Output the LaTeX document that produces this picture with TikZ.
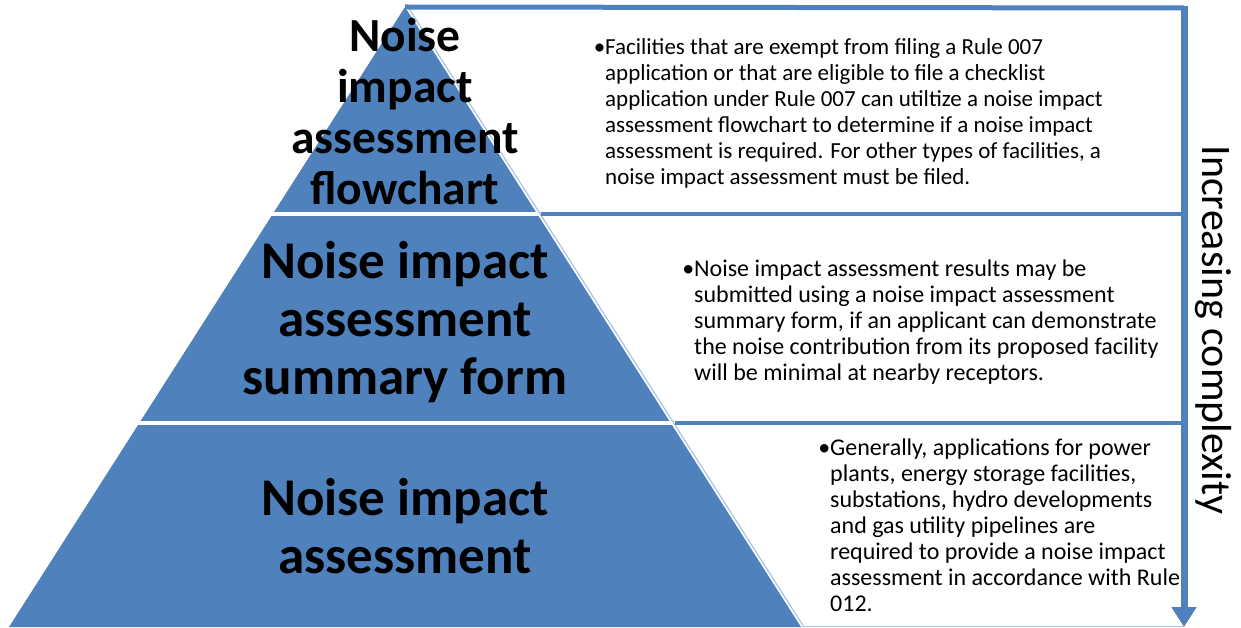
\documentclass[tikz,border=0pt]{standalone}
\usepackage{fontspec}
\setmainfont{Carlito}
\usetikzlibrary{arrows.meta,calc}
\definecolor{pblue}{HTML}{4F81BD}
\definecolor{lblue}{HTML}{A9C3E2}
\begin{document}
\begin{tikzpicture}[x=1pt,y=-1pt,
  layerfill/.style={fill=pblue},
  sepline/.style={draw=white,line width=4.5pt},
  rule/.style={draw=pblue,line width=4.3pt},
  thinline/.style={draw=lblue,line width=1.2pt},
  toptext/.style={font=\bfseries\fontsize{47.5}{51}\selectfont,align=center,inner sep=0pt,text=black},
  pyrtext/.style={font=\bfseries\fontsize{53}{58}\selectfont,align=center,inner sep=0pt,text=black},
  boxtext/.style={font=\fontsize{24}{26}\selectfont,align=left,anchor=north west,inner sep=0pt,text=black},
  ]
\useasboundingbox (0,0) rectangle (1241,628);
\coordinate (A) at (405,7);
\coordinate (BL) at (9,627);
\coordinate (BR) at (801,627);
\coordinate (L1) at ($(A)!0.3339!(BL)$);
\coordinate (R1) at ($(A)!0.3339!(BR)$);
\coordinate (L2) at ($(A)!0.6710!(BL)$);
\coordinate (R2) at ($(A)!0.6710!(BR)$);
\coordinate (TR) at (1184,8);
\coordinate (BE) at (1184,627);
% pyramid
\fill[layerfill] (A) -- (BL) -- (BR) -- cycle;
\draw[sepline] ($(L1)+(-10,0)$) -- ($(R1)+(10,0)$);
\draw[sepline] ($(L2)+(-10,0)$) -- ($(R2)+(10,0)$);
% thin slant outline of the boxes
\draw[thinline] ($(A)+(3,0)$) -- ($(BR)+(3,0)$);
\draw[thinline] ($(BR)+(3,-0.5)$) -- ($(BE)+(0,-0.5)$);
% blue rules
\draw[rule] ($(R1)+(4,0)$) -- (R1 -| TR);
\draw[rule] ($(R2)+(4,0)$) -- (R2 -| TR);
\draw[draw=pblue,line width=5pt] (A) -- (TR);
\draw[draw=pblue,line width=7pt,line join=round,-{Triangle[width=24pt,length=20pt]}] ($(TR)+(0,-2)$) -- (BE);
% pyramid labels
\node[toptext] (lab1) at (405,112) {Noise\\impact\\assessment\\flowchart};
\node[pyrtext] (lab2) at (405,322) {Noise impact\\assessment\\summary form};
\node[pyrtext] (lab3) at (405,526) {Noise impact\\assessment};
% box texts
\node[boxtext,font=\fontsize{23}{26}\selectfont] (txt1) at (605,38) {\llap{•}Facilities that are exempt from filing a Rule 007\\application or that are eligible to file a checklist\\application under Rule 007 can utiltize a noise impact\\assessment flowchart to determine if a noise impact\\assessment is required. For other types of facilities, a\\noise impact assessment must be filed.};
\node[boxtext] (txt2) at (694,259.5) {\llap{•}Noise impact assessment results may be\\submitted using a noise impact assessment\\summary form, if an applicant can demonstrate\\the noise contribution from its proposed facility\\will be minimal at nearby receptors.};
\node[boxtext] (txt3) at (830,439) {\llap{•}Generally, applications for power\\plants, energy storage facilities,\\substations, hydro developments\\and gas utility pipelines are\\required to provide a noise impact\\assessment in accordance with Rule\\012.};
% side label
\node[rotate=-90,font=\fontsize{42}{50}\selectfont,inner sep=0pt] (side) at (1213,330) {Increasing complexity};
\end{tikzpicture}
\end{document}
